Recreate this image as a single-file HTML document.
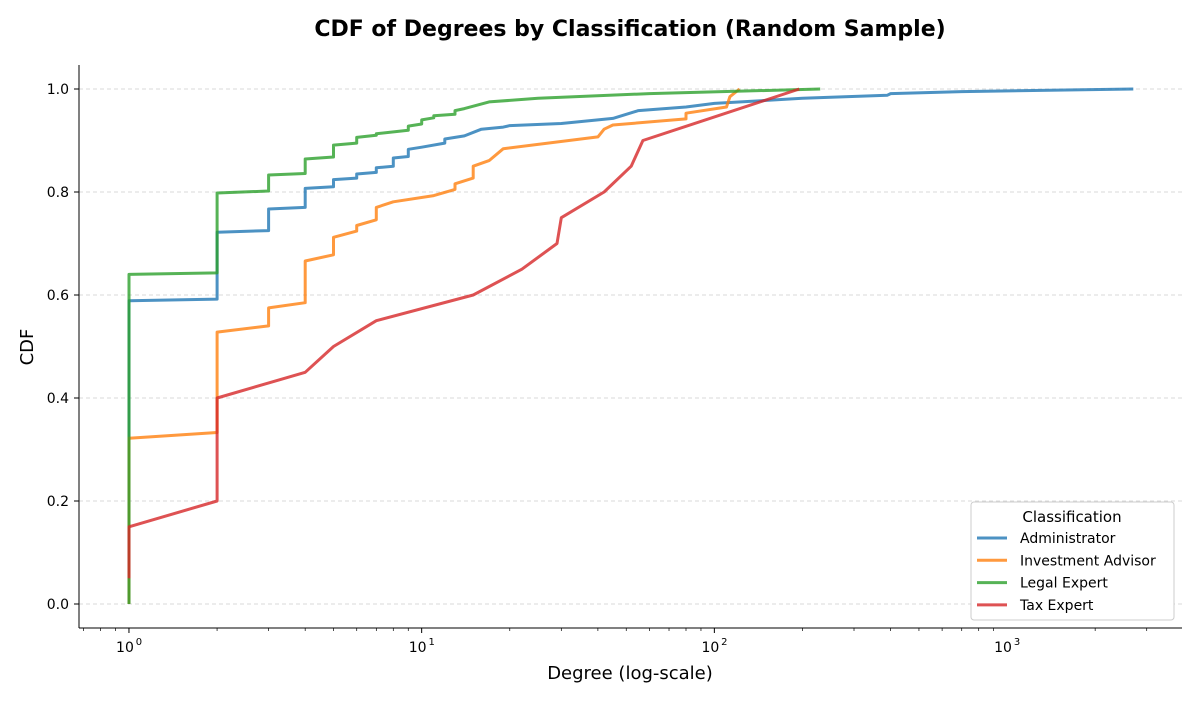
<!DOCTYPE html>
<html><head><meta charset="utf-8"><style>
body{margin:0;background:#fff;}
svg text{font-family:"DejaVu Sans","Liberation Sans",sans-serif;}
</style></head><body>
<svg id="chart" width="1200" height="700" xmlns="http://www.w3.org/2000/svg">
<text x="630" y="36" text-anchor="middle" font-size="22" font-weight="bold">CDF of Degrees by Classification (Random Sample)</text>
<g id="grid"></g><g id="axes"></g><g id="series"></g>
<text x="630" y="679" text-anchor="middle" font-size="18">Degree (log-scale)</text>
<text x="33" y="347" text-anchor="middle" font-size="18" transform="rotate(-90 33 347)">CDF</text>
<g id="legend"></g>
</svg>
<script>
const seriesNames = ["Administrator","Investment Advisor","Legal Expert","Tax Expert"];
const seriesColors = ["#1f77b4","#ff7f0e","#2ca02c","#d62728"];
const adminX = [1,1,2,2,3,3,4,4,5,5,6,6,7,7,8,8,9,9,10,12,12,14,16,19,20,30,40,45,55,80,100,200,390,400,700,2700];
const adminY = [0,0.589,0.592,0.722,0.725,0.767,0.770,0.807,0.810,0.824,0.827,0.835,0.838,0.847,0.850,0.866,0.869,0.883,0.887,0.895,0.903,0.909,0.922,0.926,0.929,0.933,0.940,0.943,0.958,0.965,0.972,0.982,0.988,0.991,0.995,1.0];
const investX = [1,1,2,2,3,3,4,4,5,5,6,6,7,7,8,11,13,13,15,15,17,19,40,42,45,80,80,110,113,122];
const investY = [0,0.322,0.333,0.528,0.540,0.575,0.585,0.666,0.678,0.712,0.724,0.735,0.746,0.770,0.781,0.793,0.805,0.816,0.827,0.850,0.861,0.884,0.907,0.922,0.930,0.942,0.953,0.965,0.985,1.0];
const legalX = [1,1,2,2,3,3,4,4,5,5,6,6,7,7,9,9,10,10,11,11,13,13,14,17,25,60,230];
const legalY = [0,0.640,0.643,0.798,0.802,0.833,0.836,0.864,0.868,0.891,0.895,0.906,0.910,0.913,0.920,0.928,0.932,0.940,0.944,0.948,0.951,0.958,0.962,0.975,0.982,0.991,1.0];
const taxX = [1,1,2,2,4,5,7,15,22,29,30,42,52,57,195];
const taxY = [0.05,0.15,0.2,0.4,0.45,0.5,0.55,0.6,0.65,0.7,0.75,0.8,0.85,0.9,1.0];
const xTickVals = [1,10,100,1000];
const xTickExp = ["0","1","2","3"];
const yTicks = [0,0.2,0.4,0.6,0.8,1.0];
const yTickLabels = ["0.0","0.2","0.4","0.6","0.8","1.0"];

const L=79,R=1182,T=65,B=628;
const xMinLog=Math.log10(0.675), xMaxLog=Math.log10(3960);
const yMin=-0.0466,yMax=1.0466;
const sx=v=>L+(Math.log10(v)-xMinLog)/(xMaxLog-xMinLog)*(R-L);
const sy=v=>B-(v-yMin)/(yMax-yMin)*(B-T);
const NS="http://www.w3.org/2000/svg";
function mk(tag,attrs,parent){const e=document.createElementNS(NS,tag);for(const k in attrs)e.setAttribute(k,attrs[k]);parent.appendChild(e);return e;}
const grid=document.getElementById('grid'),axes=document.getElementById('axes'),ser=document.getElementById('series'),leg=document.getElementById('legend');
yTicks.forEach((v,i)=>{
 const g=mk('line',{x1:L,x2:R,y1:sy(v),y2:sy(v),stroke:"#cccccc","stroke-dasharray":"4,3","stroke-width":0.8},grid);
 
 
 mk('line',{x1:L-5,x2:L,y1:sy(v),y2:sy(v),stroke:"#000","stroke-width":1},axes);
 const t=mk('text',{x:L-10,y:sy(v)+5,"text-anchor":"end","font-size":14},axes);
 t.textContent=yTickLabels[i];
 
 
});
for(let d=0;d<4;d++){for(let m=1;m<10;m++){const v=m*Math.pow(10,d-1);const x=sx(v);if(x<L||x>R)continue;
 mk('line',{x1:x,x2:x,y1:B,y2:B+(m===1?5:3),stroke:"#000","stroke-width":m===1?1:0.7},axes);}}
for(let m=2;m<=4;m++){const x=sx(m*1000);if(x<=R)mk('line',{x1:x,x2:x,y1:B,y2:B+3,stroke:"#000","stroke-width":0.7},axes);}
xTickVals.forEach((v,i)=>{
 const t=mk('text',{x:sx(v)-4,y:B+24,"text-anchor":"middle","font-size":14},axes);
 t.textContent="10";
 
 
 const s=mk('text',{x:sx(v)+10,y:B+17,"text-anchor":"middle","font-size":10},axes);
 s.textContent=xTickExp[i];
});
mk('line',{x1:L,x2:L,y1:T,y2:B,stroke:"#000","stroke-width":1},axes);
mk('line',{x1:L,x2:R,y1:B,y2:B,stroke:"#000","stroke-width":1},axes);
const allX=[adminX,investX,legalX,taxX],allY=[adminY,investY,legalY,taxY];
const slugs=["administrator","investment-advisor","legal-expert","tax-expert"];
allX.forEach((xs,i)=>{
 const d=xs.map((x,j)=>(j?'L':'M')+sx(x).toFixed(1)+' '+sy(allY[i][j]).toFixed(1)).join(' ');
 const p=mk('path',{d:d,fill:"none",stroke:seriesColors[i],"stroke-width":3,"stroke-opacity":0.8,"stroke-linejoin":"round"},ser);
 
 
});
mk('rect',{x:971,y:502,width:203,height:118,rx:3,fill:"#fff",stroke:"#cccccc","stroke-width":1},leg);
const lt=mk('text',{x:1072,y:522,"text-anchor":"middle","font-size":15},leg);
lt.textContent="Classification";


seriesNames.forEach((n,i)=>{
 const y=538+i*22.3;
 const g=mk('g',{},leg);
 
 
 mk('line',{x1:977,x2:1007,y1:y,y2:y,stroke:seriesColors[i],"stroke-width":3,"stroke-opacity":0.8},g);
 const t=mk('text',{x:1020,y:y+5,"font-size":14},g);
 t.textContent=n;
});
</script>
</body></html>
